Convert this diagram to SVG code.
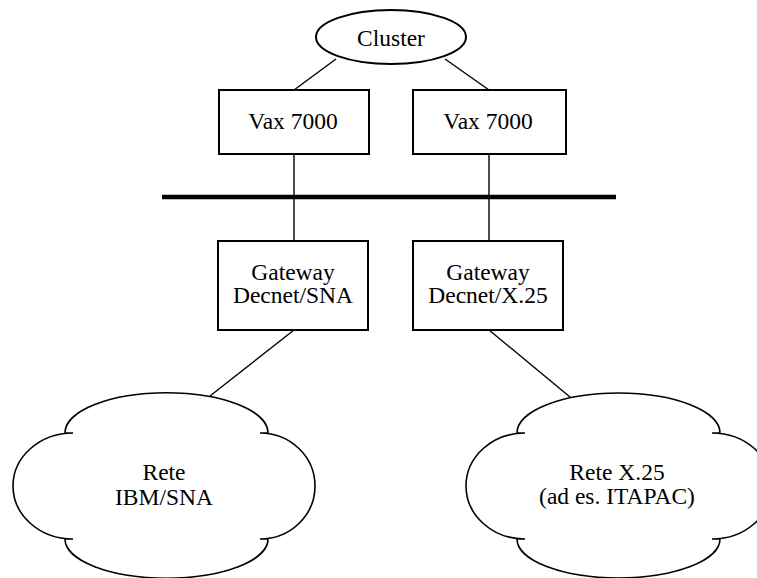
<svg xmlns="http://www.w3.org/2000/svg" width="757" height="578" viewBox="0 0 757 578">
<style>
.box{fill:#fff;stroke:#000;stroke-width:2}
.cloud{fill:#fff;stroke:#000;stroke-width:1.6}
.ln{stroke:#000;stroke-width:1.4;fill:none}
.bus{stroke:#000;stroke-width:4.5}
.t{font-family:'Liberation Serif','Times New Roman',Times,serif;font-size:23.5px;fill:#000;text-anchor:middle}
</style>
<rect width="757" height="578" fill="#fff"/>
<g id="connectors">
<line class="ln" x1="336" y1="59" x2="294" y2="90"/>
<line class="ln" x1="445" y1="59" x2="489" y2="90"/>
<line class="ln" x1="294" y1="154" x2="294" y2="241"/>
<line class="ln" x1="489" y1="154" x2="489" y2="241"/>
<line class="ln" x1="294" y1="330" x2="210" y2="396"/>
<line class="ln" x1="489" y1="330" x2="570" y2="397"/>
<line id="bus" class="bus" x1="162" y1="197" x2="616" y2="197"/>
</g>
<g id="cluster">
<ellipse class="box" cx="391" cy="37" rx="75" ry="27"/>
<text class="t" font-family="Liberation Serif, serif" x="391" y="46">Cluster</text>
</g>
<g id="vax1">
<rect class="box" x="219" y="90" width="150" height="64"/>
<text class="t" font-family="Liberation Serif, serif" x="293" y="129">Vax 7000</text>
</g>
<g id="vax2">
<rect class="box" x="413" y="90" width="153" height="64"/>
<text class="t" font-family="Liberation Serif, serif" x="488" y="129">Vax 7000</text>
</g>
<g id="gw1">
<rect class="box" x="218" y="241" width="150" height="89"/>
<text class="t" font-family="Liberation Serif, serif" x="293" y="280">Gateway</text>
<text class="t" font-family="Liberation Serif, serif" x="293" y="303">Decnet/SNA</text>
</g>
<g id="gw2">
<rect class="box" x="413" y="241" width="150" height="89"/>
<text class="t" font-family="Liberation Serif, serif" x="488" y="280">Gateway</text>
<text class="t" font-family="Liberation Serif, serif" x="488" y="303">Decnet/X.25</text>
</g>
<g id="cloud1">
<path class="cloud" d="M65,433 A101,40 0 0 1 268,433 L260,433 A55,53 0 0 1 260,539 L268,539 A101,39 0 0 1 65,539 L73,539 A60,53 0 0 1 73,433 Z"/>
<text class="t" font-family="Liberation Serif, serif" x="164" y="480">Rete</text>
<text class="t" font-family="Liberation Serif, serif" x="164" y="505">IBM/SNA</text>
</g>
<g id="cloud2">
<path class="cloud" d="M517,433 A101.5,40 0 0 1 720,433 L712,433 A60,53 0 0 1 712,539 L720,539 A101.5,39 0 0 1 517,539 L525,539 A59,53 0 0 1 525,433 Z"/>
<text class="t" font-family="Liberation Serif, serif" x="617" y="480">Rete X.25</text>
<text class="t" font-family="Liberation Serif, serif" x="617" y="504">(ad es. ITAPAC)</text>
</g>
</svg>
